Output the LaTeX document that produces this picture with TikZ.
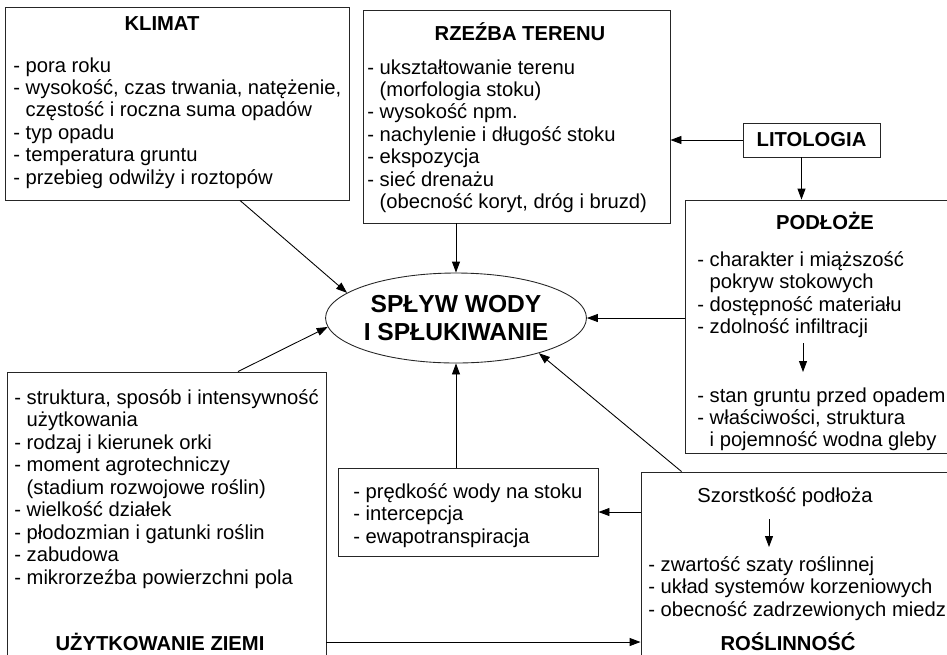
\documentclass[tikz,border=0pt]{standalone}
\usepackage{fontspec}
\setmainfont{Liberation Sans}
\usetikzlibrary{arrows.meta, positioning, fit, shapes.geometric}

\begin{document}
\begin{tikzpicture}[x=0.02cm, y=-0.02cm,
  font=\fontsize{11.5}{12.8}\selectfont,
  box/.style={draw=black!85, line width=0.5pt, inner sep=0pt},
  head/.style={font=\fontsize{11.5}{12.8}\selectfont\bfseries},
  list/.style={align=left, inner sep=0pt, anchor=north west},
  arr/.style={-{Triangle[length=2.2mm, width=1.6mm]}, line width=0.5pt}]
  \useasboundingbox (0,0) rectangle (947,654);
  \clip (0,0) rectangle (947,654);
  % frames
  \node[box, fit={(5,7) (349,200)}] (klimat) {};
  \node[box, fit={(363,10) (670,223)}] (rzezba) {};
  \node[box, fit={(685,200) (965,453)}] (podloze) {};
  \node[box, fit={(7,372) (326,680)}] (uzyt) {};
  \node[box, fit={(338,468) (598,556)}] (predkosc) {};
  \node[box, fit={(641,472) (960,680)}] (rosl) {};
  \node[box, head, minimum width=2.74cm, minimum height=0.68cm] (lito) at (811.5,140) {LITOLOGIA};
  \node[box, ellipse, minimum width=4.86cm, minimum height=1.8cm, align=center,
        font=\fontsize{14}{15.9}\selectfont\bfseries] (ell) at (456,318) {SPŁYW WODY\\I SPŁUKIWANIE};
  % titles
  \node[head] (klimathead) at (162,24) {KLIMAT};
  \node[head] (rzezbahead) at (520,32) {RZEŹBA TERENU};
  \node[head] (podlozehead) at (825,221) {PODŁOŻE};
  \node[head] (uzythead) at (160,642) {UŻYTKOWANIE ZIEMI};
  \node[head] (roslhead) at (788,642) {ROŚLINNOŚĆ};
  % lists
  \node[list] (klimatlist) at (13,57) {- pora roku\\
    - wysokość, czas trwania, natężenie,\\
    \hphantom{- }częstość i roczna suma opadów\\
    - typ opadu\\
    - temperatura gruntu\\
    - przebieg odwilży i roztopów};
  \node[list] (rzezbalist) at (367,59) {- ukształtowanie terenu\\
    \hphantom{- }(morfologia stoku)\\
    - wysokość npm.\\
    - nachylenie i długość stoku\\
    - ekspozycja\\
    - sieć drenażu\\
    \hphantom{- }(obecność koryt, dróg i bruzd)};
  \node[list] (podlozelist) at (697,251) {- charakter i miąższość\\
    \hphantom{- }pokryw stokowych\\
    - dostępność materiału\\
    - zdolność infiltracji};
  \node[list] (gruntlist) at (697,387) {- stan gruntu przed opadem\\
    - właściwości, struktura\\
    \hphantom{- }i pojemność wodna gleby};
  \node[list] (uzytlist) at (14,389) {- struktura, sposób i intensywność\\
    \hphantom{- }użytkowania\\
    - rodzaj i kierunek orki\\
    - moment agrotechniczy\\
    \hphantom{- }(stadium rozwojowe roślin)\\
    - wielkość działek\\
    - płodozmian i gatunki roślin\\
    - zabudowa\\
    - mikrorzeźba powierzchni pola};
  \node[list] (predkosclist) at (353,483) {- prędkość wody na stoku\\
    - intercepcja\\
    - ewapotranspiracja};
  \node (szorst) at (785,497) {Szorstkość podłoża};
  \node[list] (roslist) at (648,556) {- zwartość szaty roślinnej\\
    - układ systemów korzeniowych\\
    - obecność zadrzewionych miedz};
  % inner arrows
  \coordinate (pa) at (803,343);
  \coordinate (pb) at (803,372);
  \coordinate (ra) at (769,519);
  \coordinate (rb) at (769,547);
  \draw[arr] (pa) -- (pb);
  \draw[arr] (ra) -- (rb);
  % connectors
  \draw[arr] ([xshift=1.26cm]klimat.south) -- (ell.167);
  \draw[arr] (rzezba.south -| ell.north) -- (ell.north);
  \draw[arr] (podloze.west |- ell.east) -- (ell.east);
  \draw[arr] ([xshift=1.43cm]uzyt.north) -- (ell.184);
  \draw[arr] (predkosc.north -| ell.south) -- (ell.south);
  \draw[arr] ([xshift=0.82cm]rosl.north west) -- (ell.-23);
  \draw[arr] (lito.west) -- (lito.west -| rzezba.east);
  \coordinate (litoout) at ([xshift=-0.2cm]lito.south);
  \draw[arr] (litoout) -- (litoout |- podloze.north);
  \draw[arr] (rosl.west |- predkosc.east) -- (predkosc.east);
  \draw[arr] (uzythead -| uzyt.east) -- (uzythead -| rosl.west);
\end{tikzpicture}
\end{document}
